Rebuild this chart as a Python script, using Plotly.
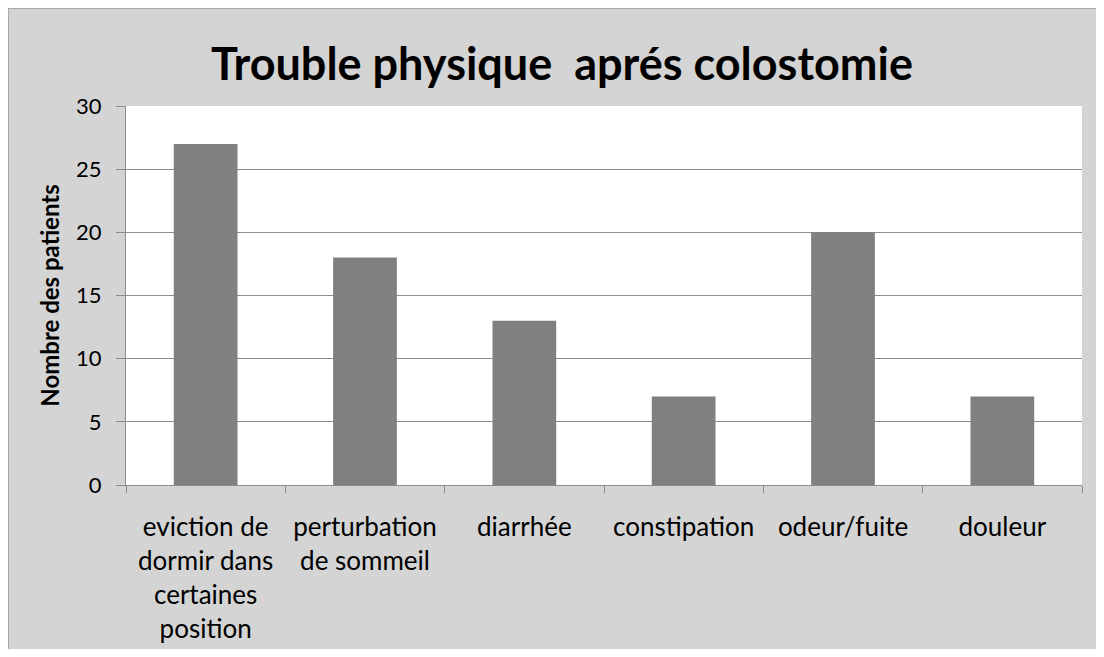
import plotly.graph_objects as go

categories = [
    "eviction de<br>dormir dans<br>certaines<br>position",
    "perturbation<br>de sommeil",
    "diarrhée",
    "constipation",
    "odeur/fuite",
    "douleur",
]
values = [27, 18, 13, 7, 20, 7]
y_ticks = [0, 5, 10, 15, 20, 25, 30]

title_text = "Trouble physique\u00a0 aprés colostomie"
y_title = "Nombre des patients"

W, H = 1088, 641
L, R, T, B = 118, 14, 98, 164
pw, ph = W - L - R, H - T - B

fig = go.Figure(
    go.Bar(
        x=categories,
        y=values,
        marker=dict(color="#808080", line=dict(width=0)),
        width=0.4,
    )
)

border = dict(color="#9a9a9a", width=1.5)
fig.update_layout(
    width=W,
    height=H,
    margin=dict(l=L, r=R, t=T, b=B, autoexpand=False),
    paper_bgcolor="#d4d4d4",
    plot_bgcolor="#ffffff",
    showlegend=False,
    font=dict(family="Lato", color="#000000"),
    title=dict(
        text=title_text,
        font=dict(family="Lato", size=45, color="#000000", weight="bold"),
        x=(562 - 8) / W,
        xanchor="center",
        y=1 - (64 - 8) / H,
        yanchor="middle",
    ),
    shapes=[
        dict(type="line", xref="paper", yref="paper",
             x0=-L / pw, x1=1 + (R + 20) / pw, y0=1 + T / ph, y1=1 + T / ph,
             line=border, layer="below"),
        dict(type="line", xref="paper", yref="paper",
             x0=-L / pw, x1=-L / pw, y0=-(B + 20) / ph, y1=1 + T / ph,
             line=border, layer="below"),
    ],
)

fig.update_xaxes(
    type="category",
    showline=True,
    linecolor="#8c8c8c",
    linewidth=1,
    ticks="outside",
    tickson="boundaries",
    ticklen=7,
    tickcolor="#8c8c8c",
    tickfont=dict(family="Lato", size=26, color="#000000"),
    ticklabelstandoff=19,
    showgrid=False,
    automargin=False,
)

fig.update_yaxes(
    range=[0, 30],
    tickvals=y_ticks,
    ticktext=[str(v) for v in y_ticks],
    showline=True,
    linecolor="#8c8c8c",
    linewidth=1,
    ticks="outside",
    ticklen=9,
    tickcolor="#8c8c8c",
    tickfont=dict(family="Lato", size=22, color="#000000"),
    ticklabelstandoff=10,
    showgrid=True,
    gridcolor="#8c8c8c",
    gridwidth=1,
    zeroline=False,
    automargin=False,
    title=dict(
        text=y_title,
        font=dict(family="Lato", size=24, color="#000000", weight="bold"),
        standoff=9,
    ),
)

fig.write_html("out.html")
